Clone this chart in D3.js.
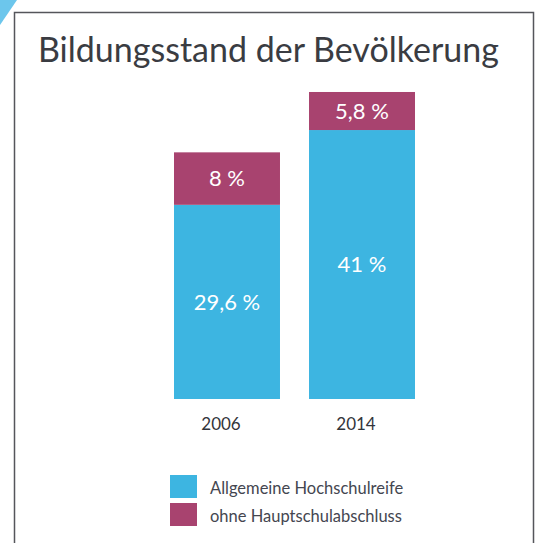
<!DOCTYPE html>
<html>
<head>
<meta charset="utf-8">
<script src="https://cdn.jsdelivr.net/npm/d3@7"></script>
<style>
  body { margin: 0; background: #fff; }
  svg { display: block; font-family: Lato, "Open Sans", sans-serif; }
</style>
</head>
<body>
<svg id="chart" width="539" height="543"></svg>
<script>
// data
const years = ["2006", "2014"];
const seriesNames = ["Allgemeine Hochschulreife", "ohne Hauptschulabschluss"];
const hochschulreife = [29.6, 41];
const ohneAbschluss = [8, 5.8];
const valueLabels = [["29,6 %", "8 %"], ["41 %", "5,8 %"]];
const colors = ["#3db5e1", "#a8436f"];

const svg = d3.select("#chart");

// blue corner + frame
svg.append("polygon")
    .attr("points", "0,0 17,0 0,25")
    .attr("fill", "#6cc6ec");
svg.append("path")
    .attr("d", "M14.5,543 L14.5,12.5 L533.5,12.5 L533.5,543")
    .attr("fill", "none")
    .attr("stroke", "#55565b")
    .attr("stroke-width", 1.5);

svg.append("text")
    .attr("x", 38)
    .attr("y", 62)
    .attr("font-size", 34)
    .attr("fill", "#3a3c42")
    .text("Bildungsstand der Bevölkerung");

let x = d3.scaleBand()
    .domain(years)
    .range([174, 415])
    .paddingInner(0.215);
let y = d3.scaleLinear()
    .domain([0, 50])
    .range([399, 71]);

let rows = years.map((yr, i) => ({ year: yr, vals: [hochschulreife[i], ohneAbschluss[i]], labels: valueLabels[i] }));

let stack = d3.stack().keys([0, 1]).value((d, k) => d.vals[k]);
let layers = stack(rows);

let g = svg.append("g");
layers.forEach((layer, k) => {
    g.selectAll(".bar" + k)
        .data(layer)
        .enter().append("rect")
        .attr("x", d => x(d.data.year))
        .attr("width", x.bandwidth())
        .attr("y", d => y(d[1]))
        .attr("height", d => y(d[0]) - y(d[1]))
        .attr("fill", colors[k]);

    g.selectAll(".lab" + k)
        .data(layer)
        .enter().append("text")
        .attr("x", d => x(d.data.year) + x.bandwidth() / 2)
        .attr("y", d => (y(d[0]) + y(d[1])) / 2)
        .attr("dy", "0.35em")
        .attr("text-anchor", "middle")
        .attr("font-size", 22)
        .attr("fill", "#fff")
        .text(d => d.data.labels[k]);
});

let xAxis = d3.axisBottom(x).tickSize(0).tickPadding(0);
svg.append("g")
    .attr("transform", "translate(-6,418)")
    .call(xAxis)
    .call(a => a.select(".domain").remove())
    .selectAll("text")
    .attr("font-family", "Lato, 'Open Sans', sans-serif")
    .attr("font-size", 17)
    .attr("fill", "#33353b");

// legend
let legend = svg.append("g").attr("transform", "translate(170,475)");
seriesNames.forEach((name, i) => {
    legend.append("rect")
        .attr("x", 0)
        .attr("y", i * 28)
        .attr("width", 27)
        .attr("height", 23)
        .attr("fill", colors[i]);
    legend.append("text")
        .attr("x", 40)
        .attr("y", i * 28 + 13)
        .attr("dy", "0.35em")
        .attr("font-size", 16.5)
        .attr("fill", "#444650")
        .text(name);
});
</script>
</body>
</html>
